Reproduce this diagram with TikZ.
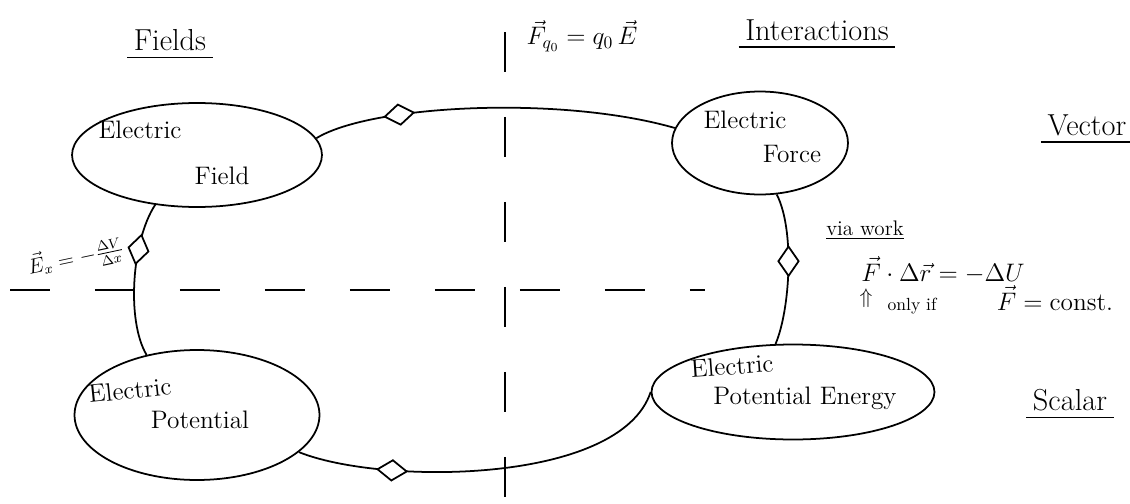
\documentclass[tikz,border=0pt]{standalone}
\usepackage{amsmath,amssymb}
\usetikzlibrary{arrows.meta,shapes.geometric}

\begin{document}
\begin{tikzpicture}[x=0.02cm,y=-0.02cm,line width=1pt,
  blob/.style={draw,ellipse,inner sep=0pt},
  junc/.style={draw,diamond,fill=white,inner sep=0pt,minimum width=0.6cm,minimum height=0.42cm,sloped},
  word/.style={font=\Large},
  head/.style={font=\LARGE},
  split/.style={dash pattern=on 0.8cm off 0.9cm}]
\useasboundingbox (0,0) rectangle (1130,504);
% headings
\node[head] (fields) at (170,40) {Fields};
\draw (fields.south west) -- (fields.south east);
\node[head] (inter) at (817,30) {Interactions};
\draw (inter.south west) -- (inter.south east);
\node[head] (vector) at (1087,125) {Vector};
\draw (vector.south west) -- (vector.south east);
\node[head] (scalar) at (1070,400) {Scalar};
\draw (scalar.south west) -- (scalar.south east);
% dividing lines
\draw[split] (505,32) -- (505,504);
\draw[split] (10,290) -- (705,290);
% the four quantities
\node[blob,minimum width=5cm,minimum height=2.08cm] (field) at (197,155) {};
\node[word] (fieldA) at (140,130) {Electric};
\node[word] (fieldB) at (222,176) {Field};
\node[blob,minimum width=3.52cm,minimum height=2.06cm] (force) at (760,143) {};
\node[word] (forceA) at (745,120) {Electric};
\node[word] (forceB) at (792,154) {Force};
\node[blob,minimum width=4.9cm,minimum height=2.6cm] (pot) at (197,415) {};
\node[word,rotate=6] (potA) at (130,390) {Electric};
\node[word] (potB) at (200,420) {Potential};
\node[blob,minimum width=5.66cm,minimum height=1.9cm] (pe) at (793,392) {};
\node[word,rotate=4] (peA) at (732,366) {Electric};
\node[word] (peB) at (805,398) {Potential Energy};
% links between them
\draw (field.8) .. controls (370,105) and (560,95) .. (force.170) node[junc,pos=0.31] (j1) {};
\draw (field.-130) .. controls (132,240) and (126,320) .. (pot.130) node[junc,pos=0.32] (j2) {};
\draw (force.-72) .. controls (795,230) and (790,310) .. (pe.110) node[junc,pos=0.45] (j3) {};
\draw (pot.-20) .. controls (380,485) and (620,485) .. (pe.180) node[junc,pos=0.27] (j4) {};
% relations
\node[font=\Large] (fq) at (582,36) {$\vec{F}_{q_0}=q_0\,\vec{E}$};
\node[font=\large,rotate=12] (ex) at (76,258) {$\vec{E}_x=-\frac{\Delta V}{\Delta x}$};
\node[font=\large] (via) at (865,230) {\underline{via work}};
\node[font=\Large] (work) at (943,270) {$\vec{F}\cdot\Delta\vec{r}=-\Delta U$};
\node[font=\large] (up) at (866,298) {$\Uparrow$};
\node (only) at (912,306) {only if};
\node[font=\Large] (const) at (1055,298) {$\vec{F}=\mathrm{const.}$};
\node[font=\Large] (ebot) at (452,516) {$E=$};
\end{tikzpicture}
\end{document}
